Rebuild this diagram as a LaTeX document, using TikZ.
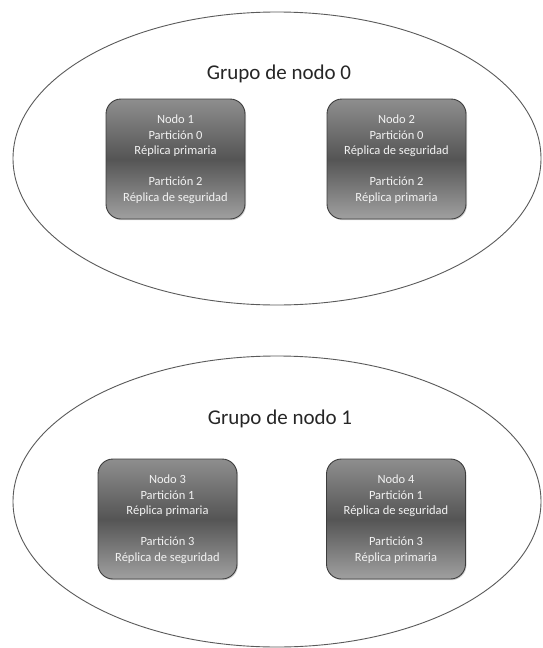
\documentclass[tikz,border=0pt]{standalone}
\usepackage{fontspec}
\setmainfont{Carlito}
\usetikzlibrary{shadows}
\definecolor{boxtop}{HTML}{8E8E8E}
\definecolor{boxmid}{HTML}{555555}
\definecolor{boxbot}{HTML}{A0A0A0}
\definecolor{boxline}{HTML}{3C3C3C}
\definecolor{grpline}{HTML}{5A5A5A}
\definecolor{boxtext}{HTML}{F2F2F2}
\tikzset{
  grp/.style={draw=grpline, line width=0.9pt},
  grptitle/.style={font=\fontsize{21pt}{25pt}\selectfont, text=black!85, inner sep=0pt},
  nodebox/.style={draw=boxline, line width=0.9pt, rounded corners=15pt,
    top color=boxtop, bottom color=boxbot, middle color=boxmid,
    drop shadow={opacity=0.35, shadow xshift=1pt, shadow yshift=-1.2pt},
    minimum width=139pt, minimum height=120pt, inner sep=0pt,
    align=center, text=boxtext,
    font=\fontsize{12.5pt}{15.5pt}\selectfont}
}
\begin{document}
\begin{tikzpicture}[x=1pt,y=-1pt]
\useasboundingbox (0,0) rectangle (542,648);
\fill[white] (0,0) rectangle (542,648);
% group 0
\draw[grp] (277,158.5) ellipse [x radius=264, y radius=146.5];
\node[grptitle] (t0) at (279,74) {Grupo de nodo 0};
\node[nodebox] (n1) at (175.5,159) {Nodo 1\\Partición 0\\Réplica primaria\\[15.5pt]Partición 2\\Réplica de seguridad};
\node[nodebox] (n2) at (396.5,159) {Nodo 2\\Partición 0\\Réplica de seguridad\\[15.5pt]Partición 2\\Réplica primaria};
% group 1
\draw[grp] (277,501.5) ellipse [x radius=264, y radius=145.5];
\node[grptitle] (t1) at (280,419) {Grupo de nodo 1};
\node[nodebox] (n3) at (167.5,519) {Nodo 3\\Partición 1\\Réplica primaria\\[15.5pt]Partición 3\\Réplica de seguridad};
\node[nodebox] (n4) at (396,519) {Nodo 4\\Partición 1\\Réplica de seguridad\\[15.5pt]Partición 3\\Réplica primaria};
\end{tikzpicture}
\end{document}
